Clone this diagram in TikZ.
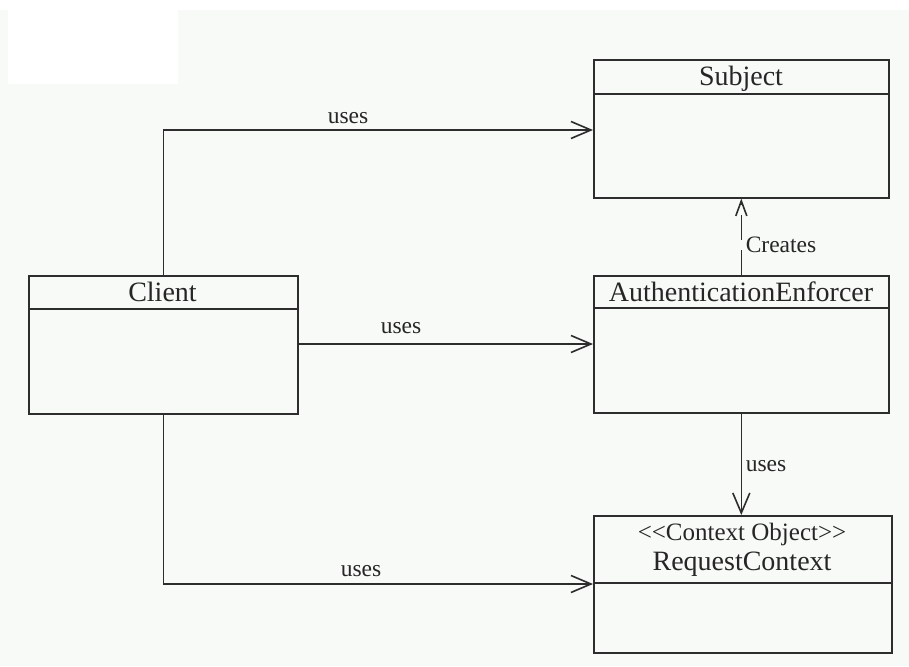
\documentclass[tikz,border=0pt]{standalone}
\usepackage{fontspec}
\setmainfont{Liberation Serif}
\usetikzlibrary{arrows.meta}
\definecolor{bgc}{RGB}{247,250,246}
\definecolor{ln}{RGB}{45,45,45}
\tikzset{
  classbox/.style={draw=ln, line width=1.6pt, anchor=north west, inner sep=0pt, fill=bgc},
  hdr/.style={draw=ln, line width=1.6pt},
  cname/.style={anchor=base, inner sep=0pt, text=black!85, font=\fontsize{28}{30}\selectfont},
  stereo/.style={anchor=base, inner sep=0pt, text=black!85, font=\fontsize{25}{27}\selectfont},
  lbl/.style={anchor=base, inner sep=0pt, text=black!85, font=\fontsize{23.5}{26}\selectfont},
  uses/.style={draw=ln, line width=1.6pt, -{Straight Barb[length=20pt,width=17pt]}},
  creates/.style={draw=ln, line width=1.6pt, dash pattern=on 25pt off 10pt, -{Straight Barb[length=15pt,width=11pt]}}
}
\begin{document}
\begin{tikzpicture}[x=1pt,y=-1pt]
\useasboundingbox (0,0) rectangle (909,666);
\fill[bgc] (0,0) rectangle (909,666);
\fill[white] (0,0) rectangle (909,10);
\fill[white] (8,10) rectangle (178,84);

% classes
\node[classbox, minimum width=295pt, minimum height=138pt] (subj) at (593,59) {};
\draw[hdr] (593,94) -- (888,94);
\node[cname] (subjt) at (741,86) {Subject};

\node[classbox, minimum width=295pt, minimum height=137pt] (ae) at (593,275) {};
\draw[hdr] (593,308) -- (888,308);
\node[cname] (aet) at (741,301) {AuthenticationEnforcer};

\node[classbox, minimum width=269pt, minimum height=138pt] (client) at (28,275) {};
\draw[hdr] (28,309) -- (297,309);
\node[cname] (clientt) at (162.5,301) {Client};

\node[classbox, minimum width=298pt, minimum height=137pt] (rc) at (593,515) {};
\draw[hdr] (593,583) -- (891,583);
\node[stereo] (rcs) at (742,540) {\mbox{<}\mbox{<}Context Object\mbox{>}\mbox{>}};
\node[cname] (rct) at (742,570) {RequestContext};

% connectors
\coordinate (y1) at (0,130);
\coordinate (y2) at (0,344);
\coordinate (y3) at (0,584);
\draw[uses] (client.north) |- (subj.west |- y1);
\draw[uses] (client.east |- y2) -- (ae.west |- y2);
\draw[uses] (client.south) |- (rc.west |- y3);
\draw[uses] (ae.south) -- (ae.south |- rc.north);
\draw[creates] (ae.north) -- (subj.south);

% labels
\node[lbl] (l1) at (348,123) {uses};
\node[lbl] (l2) at (401,333) {uses};
\node[lbl] (l3) at (361,576) {uses};
\node[lbl] (l4) at (766,471) {uses};
\node[lbl] (l5) at (781,252) {Creates};
\end{tikzpicture}
\end{document}
